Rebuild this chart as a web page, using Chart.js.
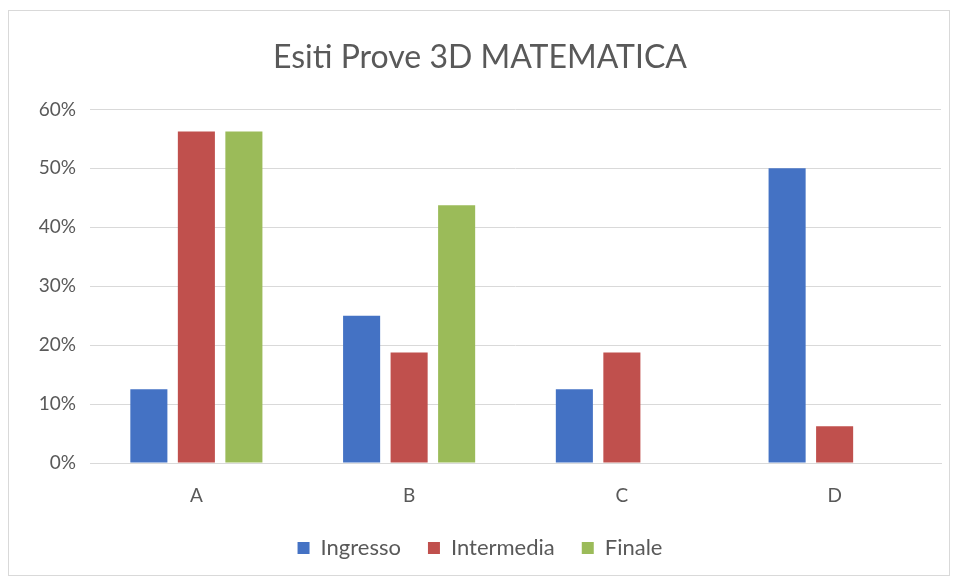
<!DOCTYPE html>
<html>
<head>
<meta charset="utf-8">
<script src="https://cdn.jsdelivr.net/npm/chart.js@4.4.0/dist/chart.umd.min.js"></script>
<style>
  body { margin: 0; background: #fff; }
  #box { position: absolute; left: 8px; top: 10px; width: 940px; height: 564px; border: 1px solid #d9d9d9; }
</style>
</head>
<body>
<div id="box"><canvas id="chart" width="940" height="564"></canvas></div>
<script>
// dati
const categorie = ['A', 'B', 'C', 'D'];
const ingresso = [12.5, 25, 12.5, 50];
const intermedia = [56.25, 18.75, 18.75, 6.25];
const finale = [56.25, 43.75, 0, 0];

const grigio = '#595959';

const ctx = document.getElementById('chart').getContext('2d');
const chart = new Chart(ctx, {
    type: 'bar',
    data: {
        labels: categorie,
        datasets: [
            { label: 'Ingresso', data: ingresso, backgroundColor: '#4472C4' },
            { label: 'Intermedia', data: intermedia, backgroundColor: '#C0504D' },
            { label: 'Finale', data: finale, backgroundColor: '#9BBB59' }
        ]
    },
    options: {
        responsive: false,
        animation: false,
        layout: { padding: { left: 10, right: 8, top: 0, bottom: 6 } },
        datasets: {
            bar: { categoryPercentage: 0.67, barPercentage: 0.78 }
        },
        plugins: {
            title: {
                display: true,
                text: 'Esiti Prove 3D MATEMATICA',
                color: grigio,
                font: { family: 'Lato', size: 32, weight: 'normal' },
                padding: { top: 27, bottom: 33 }
            },
            legend: {
                position: 'bottom',
                labels: {
                    color: grigio,
                    font: { family: 'Lato', size: 22 },
                    boxWidth: 12,
                    boxHeight: 12,
                    padding: 27
                }
            },
            tooltip: { enabled: false }
        },
        scales: {
            x: {
                grid: { display: false, drawTicks: false },
                border: { color: '#d9d9d9' },
                ticks: { color: grigio, font: { family: 'Lato', size: 19 }, padding: 21 },
                afterFit: s => { s.height = 47; }
            },
            y: {
                min: 0,
                max: 60,
                grid: { color: '#d9d9d9', drawTicks: false },
                border: { display: false },
                ticks: {
                    stepSize: 10,
                    color: grigio,
                    font: { family: 'Lato', size: 19 },
                    padding: 14,
                    callback: v => v + '%'
                },
                afterFit: s => { s.width = 71; }
            }
        }
    }
});
</script>
</body>
</html>
